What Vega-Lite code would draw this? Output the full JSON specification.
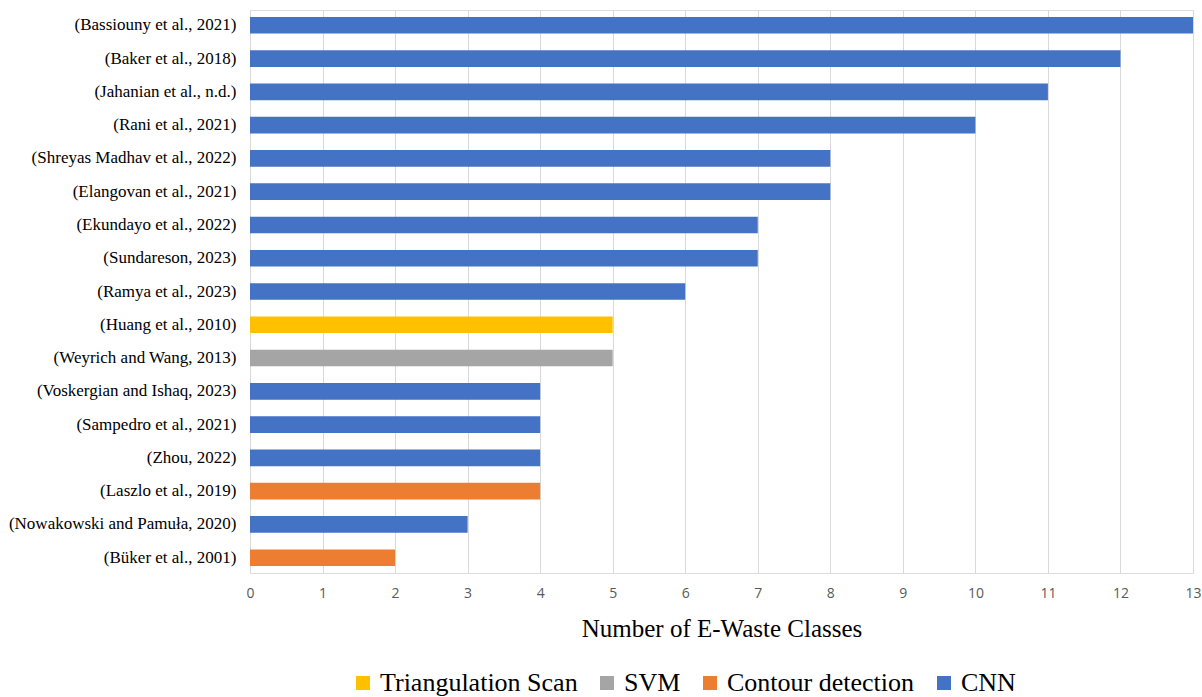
{
  "$schema": "https://vega.github.io/schema/vega-lite/v6.json",
  "autosize": {"type": "none"},
  "padding": {"left": 250, "top": 10, "right": 9, "bottom": 124},
  "width": 943,
  "height": 563,
  "background": "white",
  "data": {
    "values": [
      {"study": "(Bassiouny et al., 2021)", "classes": 13, "method": "CNN"},
      {"study": "(Baker et al., 2018)", "classes": 12, "method": "CNN"},
      {"study": "(Jahanian et al., n.d.)", "classes": 11, "method": "CNN"},
      {"study": "(Rani et al., 2021)", "classes": 10, "method": "CNN"},
      {"study": "(Shreyas Madhav et al., 2022)", "classes": 8, "method": "CNN"},
      {"study": "(Elangovan et al., 2021)", "classes": 8, "method": "CNN"},
      {"study": "(Ekundayo et al., 2022)", "classes": 7, "method": "CNN"},
      {"study": "(Sundareson, 2023)", "classes": 7, "method": "CNN"},
      {"study": "(Ramya et al., 2023)", "classes": 6, "method": "CNN"},
      {"study": "(Huang et al., 2010)", "classes": 5, "method": "Triangulation Scan"},
      {"study": "(Weyrich and Wang, 2013)", "classes": 5, "method": "SVM"},
      {"study": "(Voskergian and Ishaq, 2023)", "classes": 4, "method": "CNN"},
      {"study": "(Sampedro et al., 2021)", "classes": 4, "method": "CNN"},
      {"study": "(Zhou, 2022)", "classes": 4, "method": "CNN"},
      {"study": "(Laszlo et al., 2019)", "classes": 4, "method": "Contour detection"},
      {"study": "(Nowakowski and Pamuła, 2020)", "classes": 3, "method": "CNN"},
      {"study": "(Büker et al., 2001)", "classes": 2, "method": "Contour detection"}
    ]
  },
  "mark": {"type": "bar"},
  "encoding": {
    "y": {
      "field": "study",
      "type": "nominal",
      "sort": null,
      "scale": {"paddingInner": 0.5, "paddingOuter": 0.21},
      "axis": {
        "title": null,
        "domain": false,
        "ticks": false,
        "labelFont": "Liberation Serif",
        "labelFontSize": 17,
        "labelColor": "#000000",
        "labelPadding": 14,
        "labelLimit": 300
      }
    },
    "x": {
      "field": "classes",
      "type": "quantitative",
      "scale": {"domain": [0, 13], "nice": false},
      "axis": {
        "title": "Number of E-Waste Classes",
        "titleFont": "Liberation Serif",
        "titleFontSize": 25,
        "titleFontWeight": "normal",
        "titleColor": "#000000",
        "titlePadding": 16,
        "values": [0, 1, 2, 3, 4, 5, 6, 7, 8, 9, 10, 11, 12, 13],
        "grid": true,
        "gridColor": "#D9D9D9",
        "domain": false,
        "ticks": false,
        "labelFlush": false,
        "labelFont": "Open Sans",
        "labelFontSize": 14,
        "labelColor": "#595959",
        "labelPadding": 13
      }
    },
    "color": {
      "field": "method",
      "type": "nominal",
      "scale": {
        "domain": ["Triangulation Scan", "SVM", "Contour detection", "CNN"],
        "range": ["#FFC000", "#A5A5A5", "#ED7D31", "#4472C4"]
      },
      "legend": {
        "title": null,
        "orient": "none",
        "direction": "horizontal",
        "legendX": 100,
        "legendY": 660,
        "padding": 0,
        "symbolType": "square",
        "symbolSize": 196,
        "symbolStrokeWidth": 0,
        "symbolOpacity": 1,
        "labelFont": "Liberation Serif",
        "labelFontSize": 26,
        "labelColor": "#000000",
        "labelOffset": 4,
        "columnPadding": 16,
        "labelLimit": 400
      }
    }
  }
}
